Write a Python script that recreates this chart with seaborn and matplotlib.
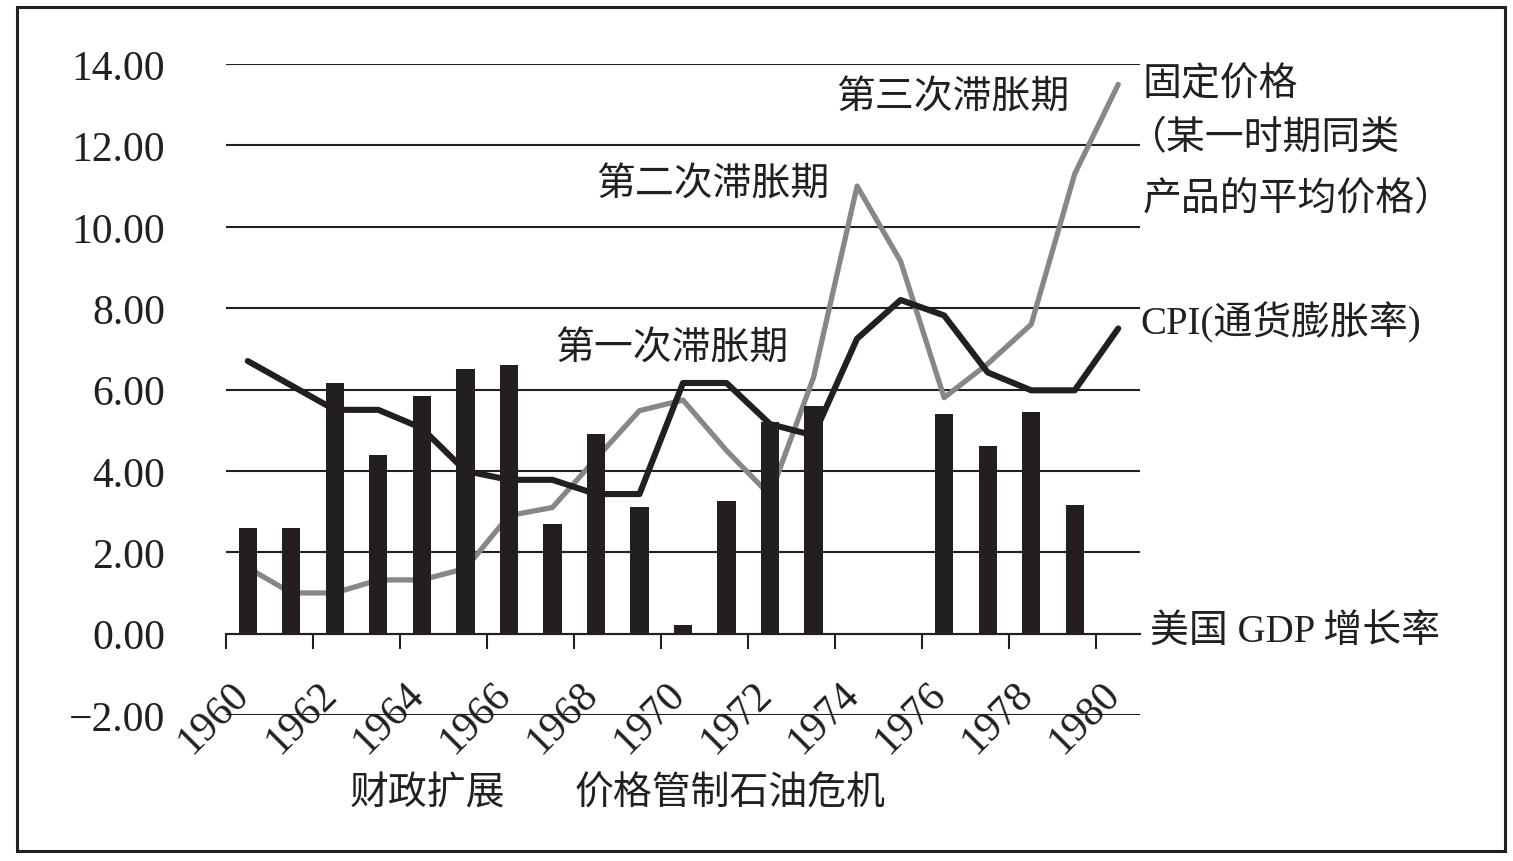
import numpy as np
import pandas as pd
import matplotlib
matplotlib.use("Agg")
import matplotlib.pyplot as plt
import matplotlib.patches as mpatches
import matplotlib.transforms as mtransforms
import seaborn as sns

# ── data ──────────────────────────────────────────────────────────────────
years = list(range(1960, 1981))
gdp_growth = [2.6, 2.6, 6.15, 4.4, 5.85, 6.5, 6.6, 2.7, 4.9, 3.1, 0.2,
              3.25, 5.2, 5.6, np.nan, np.nan, 5.4, 4.6, 5.45, 3.15, np.nan]
cpi = [6.7, 6.1, 5.5, 5.5, 5.05, 4.0, 3.78, 3.78, 3.43, 3.43, 6.16,
       6.16, 5.15, 4.87, 7.25, 8.2, 7.82, 6.42, 5.98, 5.98, 7.5]
fixed_price = [1.62, 1.0, 1.0, 1.32, 1.32, 1.6, 2.9, 3.1, 4.3, 5.48, 5.74,
               4.5, 3.4, 6.3, 11.0, 9.15, 5.8, 6.63, 7.6, 11.3, 13.5]
y_ticks = [-2, 0, 2, 4, 6, 8, 10, 12, 14]
x_tick_years = list(range(1960, 1981, 2))

stagflation_labels = ["第一次滞胀期", "第二次滞胀期", "第三次滞胀期"]
series_labels = ["固定价格", "（某一时期同类", "产品的平均价格）",
                 "CPI(通货膨胀率)", "美国 GDP 增长率"]
bottom_labels = ["财政扩展", "价格管制石油危机"]

df = pd.DataFrame({
    "year": years,
    "pos": np.arange(len(years)),
    "gdp": gdp_growth,
    "cpi": cpi,
    "fixed": fixed_price,
})

W, H = 1513, 862
INK = "#231f20"
GREY = "#878787"
FAM = ["Liberation Serif", "Noto Sans CJK SC"]

sns.set_theme(style="white")
plt.rcParams["font.family"] = FAM
plt.rcParams["axes.unicode_minus"] = True

fig = plt.figure(figsize=(W / 100, H / 100), dpi=100)
ax = fig.add_axes([226 / W, 1 - 716 / H, (1140 - 226) / W, (716 - 65) / H])


def fxy(px, py):
    return px / W, 1 - py / H


# horizontal rules
for v in y_ticks:
    ax.axhline(v, color=INK, lw=1.5, zorder=1)

sns.lineplot(data=df, x="pos", y="fixed", ax=ax, color=GREY, linewidth=3.8,
             zorder=2, legend=False)
sns.barplot(data=df.dropna(subset=["gdp"]), x="pos", y="gdp", ax=ax,
            native_scale=True, width=0.42, color=INK, saturation=1,
            linewidth=0, zorder=3)
sns.lineplot(data=df, x="pos", y="cpi", ax=ax, color=INK, linewidth=4.4,
             zorder=4, legend=False)

ax.set_xlim(-0.5, len(years) - 0.5)
ax.set_ylim(-2, 14)
ax.set_xlabel("")
ax.set_ylabel("")
ax.set_facecolor("none")

for s in ["top", "right", "left"]:
    ax.spines[s].set_visible(False)
ax.spines["bottom"].set_position(("data", 0))
ax.spines["bottom"].set_color(INK)
ax.spines["bottom"].set_linewidth(1.5)

ax.set_yticks(y_ticks)
ax.set_yticklabels([f"{v:.2f}".replace("-", "\u2212") for v in y_ticks])
ax.tick_params(axis="y", length=0, pad=44, labelsize=30, labelcolor=INK)

ax.set_xticks([y - years[0] - 0.5 for y in x_tick_years])
ax.set_xticklabels([str(y) for y in x_tick_years], rotation=45)
ax.tick_params(axis="x", length=11, width=1.5, color=INK, direction="out",
               pad=18, labelsize=30, labelcolor=INK, bottom=True)
shift = mtransforms.ScaledTranslation(-12 / 100, 0, fig.dpi_scale_trans)
for lab in ax.get_xticklabels():
    lab.set_transform(lab.get_transform() + shift)

# annotations
txt = dict(fontsize=28, color=INK, ha="left", va="center", family=FAM)
fig.text(*fxy(555, 350), stagflation_labels[0], **txt)
fig.text(*fxy(596, 186), stagflation_labels[1], **txt)
fig.text(*fxy(836, 99), stagflation_labels[2], **txt)
fig.text(*fxy(1143, 86), series_labels[0], **txt)
fig.text(*fxy(1128, 140), series_labels[1], **txt)
fig.text(*fxy(1143, 201), series_labels[2], **txt)
fig.text(*fxy(1140, 323), series_labels[3], **txt)
fig.text(*fxy(1150, 633), series_labels[4], **txt)
fig.text(*fxy(350, 795), bottom_labels[0], **txt)
fig.text(*fxy(575, 795), bottom_labels[1], **txt)

# outer frame
fig.patches.append(mpatches.Rectangle(
    (17 / W, 1 - 852 / H), (1505 - 17) / W, (852 - 8) / H,
    transform=fig.transFigure, fill=False, edgecolor=INK, lw=2.2))

fig.savefig("out.png", dpi=100)
